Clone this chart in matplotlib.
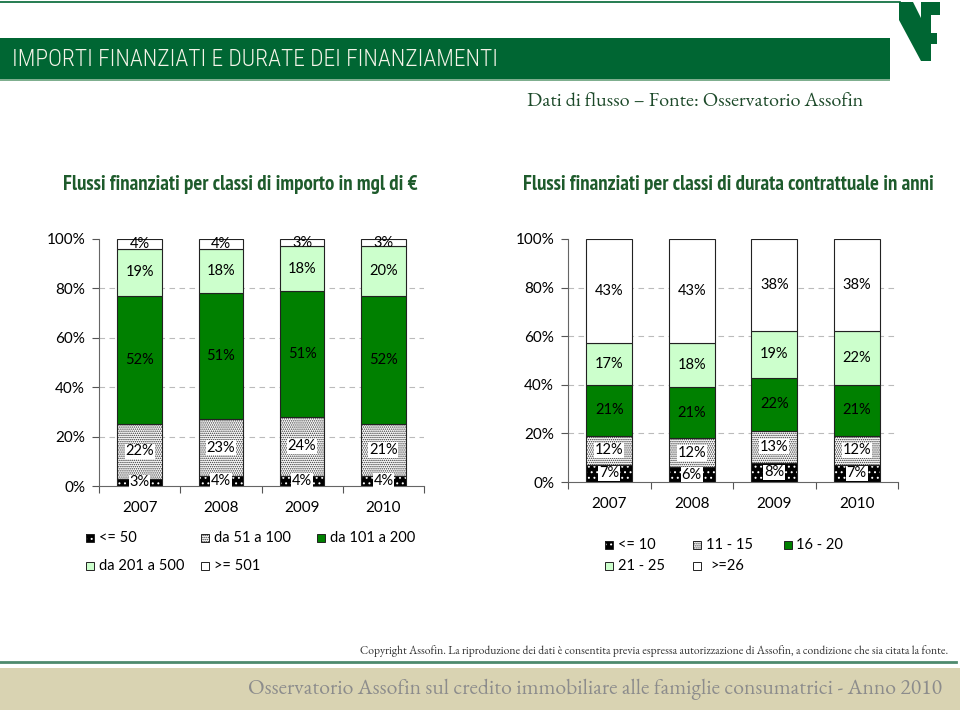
import matplotlib
matplotlib.use('Agg')
import matplotlib.pyplot as plt
from matplotlib.patches import Rectangle, Polygon
import numpy as np

# dati
anni = ['2007', '2008', '2009', '2010']

# classi di importo (mgl di euro)
imp_nomi = ['<= 50', 'da 51 a 100', 'da 101 a 200', 'da 201 a 500', '>= 501']
imp_le50 = [3, 4, 4, 4]
imp_51_100 = [22, 23, 24, 21]
imp_101_200 = [52, 51, 51, 52]
imp_201_500 = [19, 18, 18, 20]
imp_ge501 = [4, 4, 3, 3]

# classi di durata (anni)
dur_nomi = ['<= 10', '11 - 15', '16 - 20', '21 - 25', '>=26']
dur_le10 = [7, 6, 8, 7]
dur_11_15 = [12, 12, 13, 12]
dur_16_20 = [21, 21, 22, 21]
dur_21_25 = [17, 18, 19, 22]
dur_ge26 = [43, 43, 38, 38]

plt.rcParams['font.family'] = ['Lato', 'DejaVu Sans']
plt.rcParams['hatch.linewidth'] = 0.7

# colore, retino, colore retino, box bianco sotto l'etichetta
stili = [
    dict(fc='black', hatch='...', hc='white', box=True),
    dict(fc='white', hatch='........', hc='#333333', box=True),
    dict(fc='#008000', hatch=None, hc=None, box=False),
    dict(fc='#CCFFCC', hatch=None, hc=None, box=False),
    dict(fc='white', hatch=None, hc=None, box=False),
]

VERDE = '#006633'
SERIF = ['EB Garamond', 'Liberation Serif', 'DejaVu Serif']
TITOLO = ['Roboto Condensed', 'PT Sans Narrow', 'DejaVu Sans']
NARROW = ['PT Sans Narrow', 'Fira Sans Condensed', 'DejaVu Sans']

fig = plt.figure(figsize=(9.6, 7.16), dpi=100)

# sfondo in coordinate pixel
bg = fig.add_axes([0, 0, 1, 1])
bg.set_xlim(0, 960)
bg.set_ylim(716, 0)
bg.axis('off')

# intestazione
bg.plot([0, 900], [2, 2], color=VERDE, lw=1.2)
bg.add_patch(Rectangle((0, 38), 890, 42, fc=VERDE, ec='none'))
bg.add_patch(Rectangle((0, 79), 890, 1.5, fc='#7FAF8F', ec='none'))
bg.text(12, 59, 'IMPORTI FINANZIATI E DURATE DEI FINANZIAMENTI', color='#F4F4E8',
        fontsize=16.9, va='center', ha='left', family=TITOLO, fontweight='light')

# logo
bg.add_patch(Polygon([(899, 2), (913, 2), (931, 38), (931, 61), (921, 61), (899, 20)],
                     closed=True, fc=VERDE, ec='none'))
bg.add_patch(Rectangle((921, 2), 10, 59, fc=VERDE, ec='none'))
bg.add_patch(Rectangle((921, 2), 19, 13, fc=VERDE, ec='none'))
bg.add_patch(Rectangle((921, 33), 16, 11, fc=VERDE, ec='none'))

bg.text(695, 102, 'Dati di flusso \u2013 Fonte: Osservatorio Assofin', color='#1D4A2A',
        fontsize=14.5, ha='center', va='center', family=SERIF)

bg.text(240, 184, 'Flussi finanziati per classi di importo in mgl di \u20ac', color='#1E5B2C',
        fontsize=15, fontweight='bold', ha='center', va='center', family=NARROW)
bg.text(728, 184, 'Flussi finanziati per classi di durata contrattuale in anni', color='#1E5B2C',
        fontsize=15, fontweight='bold', ha='center', va='center', family=NARROW)

# piè di pagina
bg.text(948, 651, 'Copyright Assofin. La riproduzione dei dati \u00e8 consentita previa espressa '
        'autorizzazione di Assofin, a condizione che sia citata la fonte.',
        fontsize=8.4, color='#333333', ha='right', va='center', family=SERIF)
bg.plot([0, 956], [662, 662], color='#4E8A6E', lw=2)
bg.add_patch(Rectangle((0, 668), 960, 42, fc='#D9D3B2', ec='none'))
bg.text(942, 689, 'Osservatorio Assofin sul credito immobiliare alle famiglie consumatrici - Anno 2010',
        fontsize=15.6, color='#8C8C8C', ha='right', va='center', family=SERIF)


def grafico(ax, serie, larghezza):
    x = np.arange(len(anni))
    base = np.zeros(len(anni))
    for valori, st in zip(serie, stili):
        valori = np.array(valori, dtype=float)
        if st['hatch']:
            ax.bar(x, valori, larghezza, bottom=base, color=st['fc'], edgecolor=st['hc'],
                   hatch=st['hatch'], linewidth=0, zorder=2)
            ax.bar(x, valori, larghezza, bottom=base, facecolor='none', edgecolor='#222222',
                   linewidth=0.8, zorder=3)
        else:
            ax.bar(x, valori, larghezza, bottom=base, color=st['fc'], edgecolor='#222222',
                   linewidth=0.8, zorder=3)
        for xi, b, v in zip(x, base, valori):
            kw = {}
            if st['box']:
                kw['bbox'] = dict(boxstyle='square,pad=0.05', fc='white', ec='none')
            ax.text(xi, b + v / 2, f'{int(v)}%', ha='center', va='center',
                    fontsize=10.5, color='black', zorder=5, **kw)
        base += valori

    ax.set_xlim(-0.5, len(anni) - 0.5)
    ax.set_ylim(0, 100)
    ax.set_yticks(range(0, 101, 20))
    ax.set_yticklabels([f'{v}%' for v in range(0, 101, 20)], fontsize=11)
    ax.set_xticks(x)
    ax.set_xticklabels(anni, fontsize=11)
    ax.set_xticks(np.arange(-0.5, len(anni)), minor=True)
    ax.tick_params(axis='x', which='major', length=0, pad=11)
    ax.tick_params(axis='x', which='minor', length=5, width=0.8, color='#555555')
    ax.tick_params(axis='y', length=5, width=0.8, color='#555555', pad=5)
    for y in range(20, 100, 20):
        ax.axhline(y, color='#BBBBBB', lw=0.8, ls=(0, (5, 4)), zorder=1)
    for s in ['top', 'right']:
        ax.spines[s].set_visible(False)
    for s in ['left', 'bottom']:
        ax.spines[s].set_color('#666666')
        ax.spines[s].set_linewidth(0.8)
    ax.patch.set_alpha(0)


ax1 = fig.add_axes([99 / 960, (716 - 486) / 716, 325 / 960, 247 / 716])
grafico(ax1, [imp_le50, imp_51_100, imp_101_200, imp_201_500, imp_ge501], 0.55)

ax2 = fig.add_axes([568 / 960, (716 - 482) / 716, 330 / 960, 243 / 716])
grafico(ax2, [dur_le10, dur_11_15, dur_16_20, dur_21_25, dur_ge26], 0.56)


def legenda(voci):
    # (nome, stile, x quadratino, y, x testo)
    for nome, st, xm, y, xt in voci:
        if st['hatch']:
            bg.add_patch(Rectangle((xm - 4, y - 4), 8, 8, fc=st['fc'], ec=st['hc'],
                                   hatch=st['hatch'], lw=0))
            bg.add_patch(Rectangle((xm - 4, y - 4), 8, 8, fc='none', ec='#222222', lw=0.7))
        else:
            bg.add_patch(Rectangle((xm - 4, y - 4), 8, 8, fc=st['fc'], ec='#222222', lw=0.7))
        bg.text(xt, y, nome, fontsize=10.5, ha='left', va='center')


legenda([
    (imp_nomi[0], stili[0], 90, 538, 99),
    (imp_nomi[1], stili[1], 205, 538, 214),
    (imp_nomi[2], stili[2], 321, 538, 330),
    (imp_nomi[3], stili[3], 90, 566, 99),
    (imp_nomi[4], stili[4], 205, 566, 214),
])
legenda([
    (dur_nomi[0], stili[0], 609, 545, 618),
    (dur_nomi[1], stili[1], 697, 545, 706),
    (dur_nomi[2], stili[2], 788, 545, 796),
    (dur_nomi[3], stili[3], 609, 566, 618),
    (dur_nomi[4], stili[4], 697, 566, 710),
])

fig.savefig('out.png', dpi=100)
